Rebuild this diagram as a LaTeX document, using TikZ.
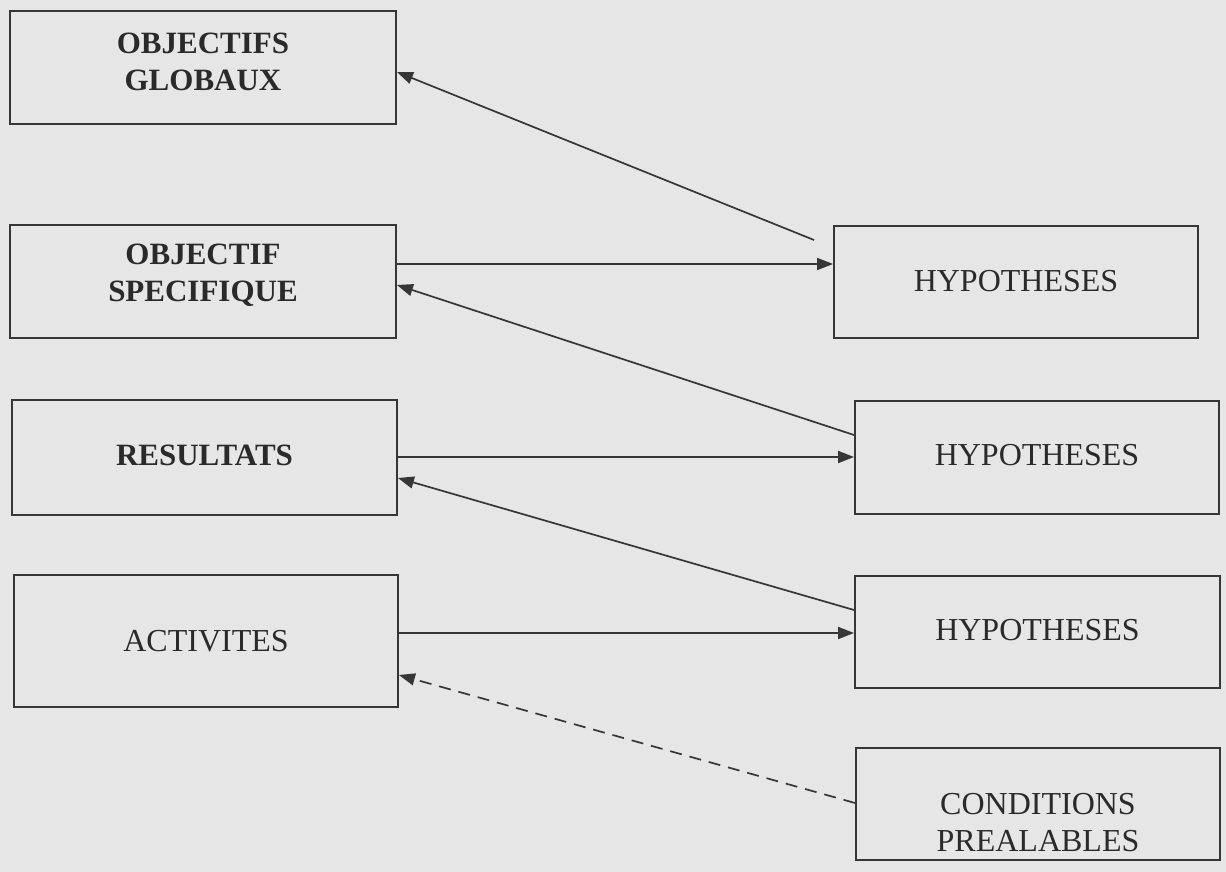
\documentclass[tikz,border=0pt]{standalone}
\usepackage{fontspec}
\setmainfont{Liberation Serif}
\usetikzlibrary{arrows.meta,calc}
\definecolor{paper}{HTML}{E6E6E6}
\definecolor{ink}{HTML}{363636}
\definecolor{txt}{HTML}{2A2A2A}
\begin{document}
\begin{tikzpicture}[x=1pt,y=-1pt,
  box/.style={draw=ink, line width=1.9pt, rectangle, inner sep=0pt},
  lbl/.style={text=txt, align=center, inner sep=0pt,
              font=\fontsize{32}{37}\selectfont},
  blbl/.style={lbl, font=\fontsize{31}{37}\selectfont\bfseries},
  arr/.style={draw=ink, line width=1.7pt, -{Triangle[length=16pt,width=12pt]}},
]
% sheet
\fill[paper] (0,0) rectangle (1226,872);
\useasboundingbox (0,0) rectangle (1226,872);

% left column
\node[box, minimum width=386pt, minimum height=113pt,
      label={[blbl,yshift=6pt]center:{OBJECTIFS\\GLOBAUX}}] (og) at (203,67.5) {};
\node[box, minimum width=386pt, minimum height=113pt,
      label={[blbl,yshift=6pt]center:{OBJECTIF\\SPECIFIQUE}}] (os) at (203,281.5) {};
\node[box, minimum width=385pt, minimum height=115pt,
      label={[blbl,yshift=2pt]center:{RESULTATS}}] (res) at (204.5,457.5) {};
\node[box, minimum width=384pt, minimum height=132pt,
      label={[lbl]center:{ACTIVITES}}] (act) at (206,641) {};

% right column
\node[box, minimum width=364pt, minimum height=112pt,
      label={[lbl,yshift=1pt]center:{HYPOTHESES}}] (h1) at (1016,282) {};
\node[box, minimum width=364pt, minimum height=113pt,
      label={[lbl,yshift=2pt]center:{HYPOTHESES}}] (h2) at (1037,457.5) {};
\node[box, minimum width=365pt, minimum height=112pt,
      label={[lbl,yshift=2pt]center:{HYPOTHESES}}] (h3) at (1037.5,632) {};
\node[box, minimum width=364pt, minimum height=112pt,
      label={[lbl,yshift=-19pt]center:{CONDITIONS\\PREALABLES}}] (cp) at (1038,804) {};

% connectors
\draw[arr] ($(h1.west |- 0,240)+(-19,0)$) -- (og.east |- 0,72);
\draw[arr] (os.east |- 0,264) -- (h1.west |- 0,264);
\draw[arr] (h2.west |- 0,435) -- (os.east |- 0,285);
\draw[arr] (res.east |- 0,457) -- (h2.west |- 0,457);
\draw[arr] (h3.west |- 0,610) -- (res.east |- 0,478);
\draw[arr] (act.east |- 0,633) -- (h3.west |- 0,633);
\draw[arr, dash pattern=on 12pt off 8pt] (cp.west |- 0,803) -- (act.east |- 0,675);
\end{tikzpicture}
\end{document}
